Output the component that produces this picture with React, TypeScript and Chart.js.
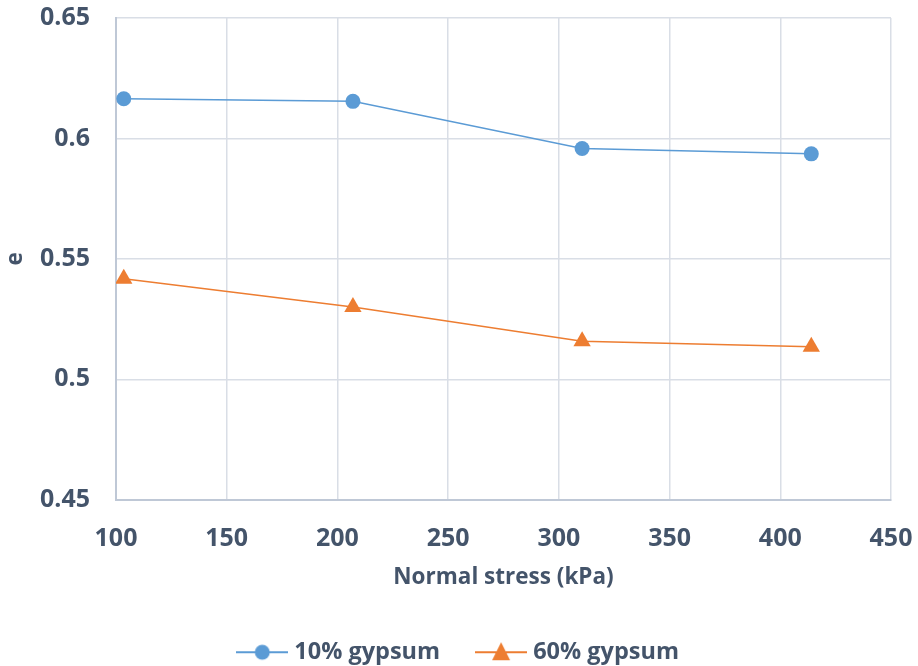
import React, { useEffect, useRef } from "react";
import { Chart, registerables } from "chart.js";

Chart.register(...registerables);

const stress10 = [103.5, 207, 310.5, 414];
const e10 = [0.6165, 0.6154, 0.5958, 0.5936];
const stress60 = [103.5, 207, 310.5, 414];
const e60 = [0.5417, 0.53, 0.5158, 0.5135];
const seriesNames = ["10% gypsum", "60% gypsum"];

const BLUE = "#5B9BD5";
const ORANGE = "#ED7D31";
const TEXT = "#44546A";
const GRID = "#D9DEE6";
const FONT = "'Open Sans', sans-serif";

function legendIcon(kind: "circle" | "triangle", color: string) {
  const c = document.createElement("canvas");
  c.width = 52;
  c.height = 22;
  const ctx = c.getContext("2d")!;
  ctx.strokeStyle = color;
  ctx.lineWidth = 2;
  ctx.beginPath();
  ctx.moveTo(0, 11);
  ctx.lineTo(52, 11);
  ctx.stroke();
  ctx.fillStyle = color;
  ctx.beginPath();
  if (kind === "circle") {
    ctx.arc(26, 11, 7.5, 0, Math.PI * 2);
  } else {
    ctx.moveTo(26, 1);
    ctx.lineTo(35, 19);
    ctx.lineTo(17, 19);
    ctx.closePath();
  }
  ctx.fill();
  return c;
}

export default function App() {
  const ref = useRef<HTMLCanvasElement | null>(null);
  useEffect(() => {
    document.body.style.margin = "0";
    const icons = [legendIcon("circle", BLUE), legendIcon("triangle", ORANGE)];
    const chart = new Chart(ref.current!, {
      type: "line",
      data: {
        datasets: [
          {
            label: seriesNames[0],
            data: stress10.map((x, i) => ({ x, y: e10[i] })),
            borderColor: BLUE,
            backgroundColor: BLUE,
            borderWidth: 1.5,
            pointStyle: "circle",
            pointRadius: 7.5,
            pointBorderWidth: 0,
          },
          {
            label: seriesNames[1],
            data: stress60.map((x, i) => ({ x, y: e60[i] })),
            borderColor: ORANGE,
            backgroundColor: ORANGE,
            borderWidth: 1.5,
            pointStyle: "triangle",
            pointRadius: 10,
            pointBorderWidth: 0,
          },
        ],
      },
      options: {
        animation: false,
        responsive: false,
        layout: { autoPadding: false, padding: { top: 18, right: 27, left: 30, bottom: -8 } },
        plugins: {
          tooltip: { enabled: false },
          legend: {
            position: "bottom",
            labels: {
              usePointStyle: true,
              pointStyleWidth: 40.5,
              color: TEXT,
              font: { family: FONT, size: 23.5, weight: "bold" },
              padding: 40.75,
              generateLabels: (ch: any) =>
                ch.data.datasets.map((ds: any, i: number) => ({
                  text: ds.label,
                  pointStyle: icons[i],
                  fillStyle: ds.backgroundColor,
                  strokeStyle: ds.borderColor,
                  lineWidth: 0,
                  fontColor: TEXT,
                  datasetIndex: i,
                  hidden: false,
                })),
            },
          },
        },
        scales: {
          x: {
            type: "linear",
            min: 100,
            max: 450,
            ticks: { stepSize: 50, color: TEXT, font: { family: FONT, size: 25, weight: "bold" }, padding: 24 },
            grid: { color: GRID, drawTicks: false, lineWidth: 1.5 },
            border: { color: "#BFC8D6", width: 2 },
            title: {
              display: true,
              text: "Normal stress (kPa)",
              color: TEXT,
              font: { family: FONT, size: 22.5, weight: "bold" },
              padding: { top: -14, bottom: 9 },
            },
            afterFit: (s: any) => {
              s.paddingLeft = 0;
              s.paddingRight = 0;
            },
          },
          y: {
            type: "linear",
            min: 0.45,
            max: 0.65,
            ticks: {
              stepSize: 0.05,
              color: TEXT,
              font: { family: FONT, size: 25, weight: "bold" },
              padding: 26,
              callback: (v: any) => String(Math.round(Number(v) * 100) / 100),
            },
            grid: { color: GRID, drawTicks: false, lineWidth: 1.5 },
            border: { color: "#BFC8D6", width: 2 },
            title: {
              display: true,
              text: "e",
              color: TEXT,
              font: { family: FONT, size: 22.5, weight: "bold" },
              padding: { top: -28, bottom: 10 },
            },
            afterFit: (s: any) => {
              s.width = 86;
              s.paddingTop = 0;
              s.paddingBottom = 0;
            },
          },
        },
      },
    } as any);
    return () => chart.destroy();
  }, []);
  return <canvas ref={ref} width={918} height={666} style={{ display: "block" }} />;
}
